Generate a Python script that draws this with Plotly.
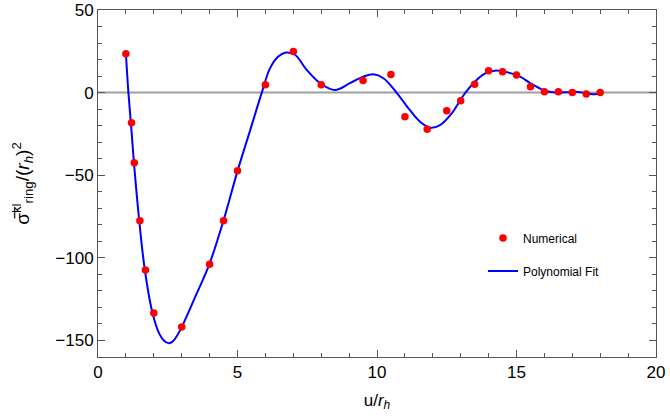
import plotly.graph_objects as go

# Numerical data points
num_x = [1.0, 1.2, 1.3, 1.5, 1.7, 2.0, 3.0, 4.0, 4.5, 5.0, 6.0, 7.0, 8.0, 9.5, 10.5,
         11.0, 11.8, 12.5, 13.0, 13.5, 14.0, 14.5, 15.0, 15.5, 16.0, 16.5, 17.0, 17.5, 18.0]
num_y = [23.5, -18.2, -42.4, -77.6, -107.3, -133.4, -141.9, -103.9, -77.6, -47.3, 4.7, 24.9,
         4.7, 7.3, 10.9, -14.6, -22.2, -10.9, -4.9, 5.1, 13.3, 12.7, 10.6, 3.6, 0.6, 0.6, 0.0, -0.8, 0.0]

# Polynomial fit curve
fit_x = [1.0, 1.09, 1.18, 1.29, 1.48, 1.68, 1.96, 2.2, 2.36, 2.52, 2.66, 2.8, 3.0, 3.5, 3.99,
         4.49, 5.0, 5.45, 5.87, 6.16, 6.46, 6.74, 7.06, 7.48, 7.96, 8.49, 9.03, 9.51, 9.87,
         10.23, 10.72, 11.15, 11.54, 11.9, 12.26, 12.68, 13.15, 13.57, 13.93, 14.23, 14.65,
         15.13, 15.48, 15.96, 16.32, 16.8, 17.1, 17.52, 17.81, 18.0]
fit_y = [23.5, 0.0, -18.6, -42.8, -77.8, -107.5, -133.8, -146.0, -150.0, -151.6, -150.8,
         -148.0, -141.9, -123.0, -103.9, -77.8, -47.5, -23.0, 0.0, 14.5, 21.8, 24.3, 22.9,
         13.8, 5.7, 1.6, 5.7, 9.7, 11.1, 8.7, -0.4, -10.0, -17.6, -21.2, -19.6, -12.5, -0.4,
         7.7, 12.1, 13.3, 12.4, 9.7, 5.9, 1.6, 0.2, 0.2, 0.6, -0.4, -1.0, -0.5]

x_range = [0, 20]
y_range = [-160, 50]
x_ticks = [0, 5, 10, 15, 20]
y_ticks = [-150, -100, -50, 0, 50]

font_family = "Liberation Sans, Arial, sans-serif"

fig = go.Figure()

# zero line
fig.add_trace(go.Scatter(x=x_range, y=[0, 0], mode="lines",
                         line=dict(color="#a0a0a0", width=2), showlegend=False,
                         hoverinfo="skip"))

fig.add_trace(go.Scatter(x=fit_x, y=fit_y, mode="lines", name="Polynomial Fit",
                         line=dict(color="#0000ff", width=2, shape="spline", smoothing=1),
                         legendgroup="b", legendrank=2))

fig.add_trace(go.Scatter(x=num_x, y=num_y, mode="markers", name="Numerical",
                         marker=dict(color="#ff0000", size=7.5), legendgroup="a",
                         legendrank=1))

axis_common = dict(
    showgrid=False, zeroline=False, showline=True, linecolor="#555555", linewidth=1,
    mirror="ticks", ticks="inside", ticklen=7, tickcolor="#555555", tickwidth=1,
    ticklabeloverflow="allow",
    tickfont=dict(family=font_family, size=17, color="#000000"),
)

fig.update_xaxes(range=x_range, tickvals=x_ticks, ticktext=[str(t) for t in x_ticks],
                 minor=dict(dtick=1, ticks="inside", ticklen=4, tickcolor="#555555"),
                 title=dict(text="u/<i>r</i><sub><i>h</i></sub>",
                            font=dict(family=font_family, size=17, color="#000000"),
                            standoff=12),
                 **axis_common)
fig.update_yaxes(range=y_range, tickvals=y_ticks,
                 ticktext=["\u2212150", "\u2212100", "\u221250", "0", "50"],
                 minor=dict(dtick=10, ticks="inside", ticklen=4, tickcolor="#555555"),
                 title=dict(text="\u03c3\u0305<sup>kl</sup><sub>ring</sub>/(<i>r</i><sub><i>h</i></sub>)<sup>2</sup>",
                            font=dict(family=font_family, size=19, color="#000000"),
                            standoff=20),
                 **axis_common)

fig.update_layout(
    width=670, height=419,
    margin=dict(l=98, r=14, t=10, b=62, autoexpand=False),
    paper_bgcolor="white", plot_bgcolor="white",
    font=dict(family=font_family, color="#000000"),
    legend=dict(x=0.69, y=0.385, xanchor="left", yanchor="top",
                traceorder="grouped", tracegroupgap=14,
                font=dict(family=font_family, size=12, color="#000000"),
                bgcolor="rgba(0,0,0,0)"),
)

fig.write_html("out.html", config={"displayModeBar": False},
               post_script="document.body.style.margin='0';document.body.style.overflow='hidden';")
